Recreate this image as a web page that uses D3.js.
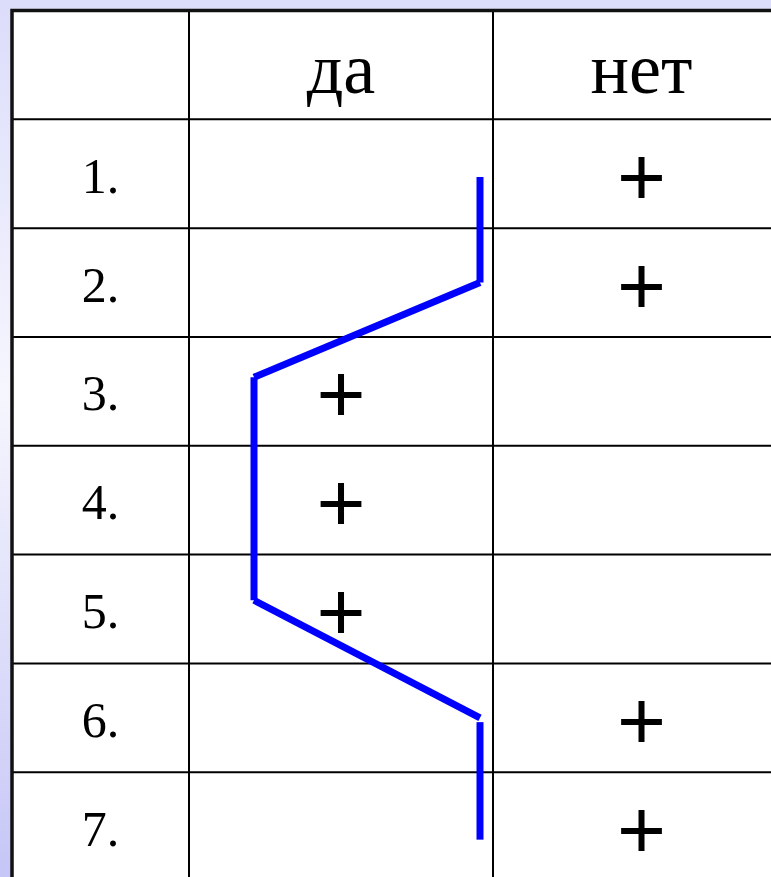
<!doctype html>
<html>

<head>
    <meta charset="UTF-8">
    <title>да / нет</title>
    <script src="https://d3js.org/d3.v7.min.js"></script>
    <style>
        html, body {
            margin: 0;
            padding: 0;
            overflow: hidden;
        }

        text {
            font-family: "Liberation Serif", "Times New Roman", serif;
            fill: #000;
        }

        text.plus {
            font-family: "Liberation Sans", Arial, sans-serif;
        }

    </style>
</head>

<body>
    <svg width="771" height="877"></svg>

    <script>
        // data
        var columns = ["", "да", "нет"];
        var rowLabels = ["1.", "2.", "3.", "4.", "5.", "6.", "7."];
        var answers = ["нет", "нет", "да", "да", "да", "нет", "нет"];

        // hand drawn blue path, in row units (row 1..7 = centre of row) and column side
        var pathSegments = [
            { r0: 1.03, s0: "нет", r1: 2,    s1: "нет" },
            { r0: 2,    s0: "нет", r1: 2.87, s1: "да" },
            { r0: 2.87, s0: "да",  r1: 4.92, s1: "да" },
            { r0: 4.92, s0: "да",  r1: 6,    s1: "нет" },
            { r0: 6.04, s0: "нет", r1: 7.12, s1: "нет" }
        ];

        var svg = d3.select("svg");

        var defs = svg.append("defs");
        var grad = defs.append("linearGradient")
            .attr("id", "bg")
            .attr("x1", 0).attr("y1", 0)
            .attr("x2", 0).attr("y2", 1);
        grad.append("stop").attr("offset", "0").attr("stop-color", "#dcdcfb");
        grad.append("stop").attr("offset", "0.45").attr("stop-color", "#f6f6fe");
        grad.append("stop").attr("offset", "1").attr("stop-color", "#c6c6f7");

        svg.append("rect")
            .attr("width", 771)
            .attr("height", 877)
            .attr("fill", "url(#bg)");

        // scales
        var colEdges = d3.scaleOrdinal()
            .domain(["left", "", "да", "нет"])
            .range([12, 189, 493, 790]);

        function colLeft(c) {
            var i = columns.indexOf(c);
            return i === 0 ? colEdges("left") : colEdges(columns[i - 1]);
        }

        function colRight(c) {
            return colEdges(c);
        }

        function colMid(c) {
            return (colLeft(c) + colRight(c)) / 2;
        }

        // row index: 0 = header, 1..7 = items; value maps to row centre
        var y = d3.scaleLinear()
            .domain([-0.5, rowLabels.length + 0.5])
            .range([10.5, 881]);

        var lineX = d3.scaleOrdinal()
            .domain(["да", "нет"])
            .range([colLeft("да") + 65, colRight("да") - 13]);

        // table body
        var table = svg.append("g").attr("class", "table");

        table.append("rect")
            .attr("x", colLeft(""))
            .attr("y", y(-0.5))
            .attr("width", colRight("нет") - colLeft(""))
            .attr("height", y(rowLabels.length + 0.5) - y(-0.5))
            .attr("fill", "#fff");

        // inner horizontal lines
        table.selectAll("line.h")
            .data(d3.range(1, rowLabels.length + 1))
            .enter().append("line")
            .attr("class", "h")
            .attr("x1", colLeft(""))
            .attr("x2", colRight("нет"))
            .attr("y1", function(d) { return y(d - 0.5); })
            .attr("y2", function(d) { return y(d - 0.5); })
            .attr("stroke", "#000")
            .attr("stroke-width", 2);

        // inner vertical lines
        table.selectAll("line.v")
            .data(["да", "нет"])
            .enter().append("line")
            .attr("class", "v")
            .attr("x1", function(d) { return colLeft(d); })
            .attr("x2", function(d) { return colLeft(d); })
            .attr("y1", y(-0.5))
            .attr("y2", y(rowLabels.length + 0.5))
            .attr("stroke", "#000")
            .attr("stroke-width", 2);

        // outer border
        table.append("rect")
            .attr("x", colLeft(""))
            .attr("y", y(-0.5))
            .attr("width", colRight("нет") - colLeft(""))
            .attr("height", y(rowLabels.length + 0.5) - y(-0.5))
            .attr("fill", "none")
            .attr("stroke", "#111")
            .attr("stroke-width", 3.5);

        // header
        table.selectAll("text.head")
            .data(columns.slice(1))
            .enter().append("text")
            .attr("class", "head")
            .attr("x", function(d) { return colMid(d); })
            .attr("y", y(0) + 28)
            .attr("text-anchor", "middle")
            .attr("font-size", "72px")
            .text(function(d) { return d; });

        // row labels
        table.selectAll("text.num")
            .data(rowLabels)
            .enter().append("text")
            .attr("class", "num")
            .attr("x", colMid(""))
            .attr("y", function(d, i) { return y(i + 1) + 19; })
            .attr("text-anchor", "middle")
            .attr("font-size", "50px")
            .text(function(d) { return d; });

        // plus marks
        table.selectAll("text.plus")
            .data(answers)
            .enter().append("text")
            .attr("class", "plus")
            .attr("x", function(d) { return colMid(d); })
            .attr("y", function(d, i) { return y(i + 1) + 31; })
            .attr("text-anchor", "middle")
            .attr("font-size", "84px")
            .text("+");

        // blue path
        svg.append("g").attr("class", "path")
            .selectAll("line")
            .data(pathSegments)
            .enter().append("line")
            .attr("x1", function(d) { return lineX(d.s0); })
            .attr("y1", function(d) { return y(d.r0); })
            .attr("x2", function(d) { return lineX(d.s1); })
            .attr("y2", function(d) { return y(d.r1); })
            .attr("stroke", "#0000ff")
            .attr("stroke-width", 7)
            .attr("stroke-linecap", "butt");

    </script>

</body>

</html>
